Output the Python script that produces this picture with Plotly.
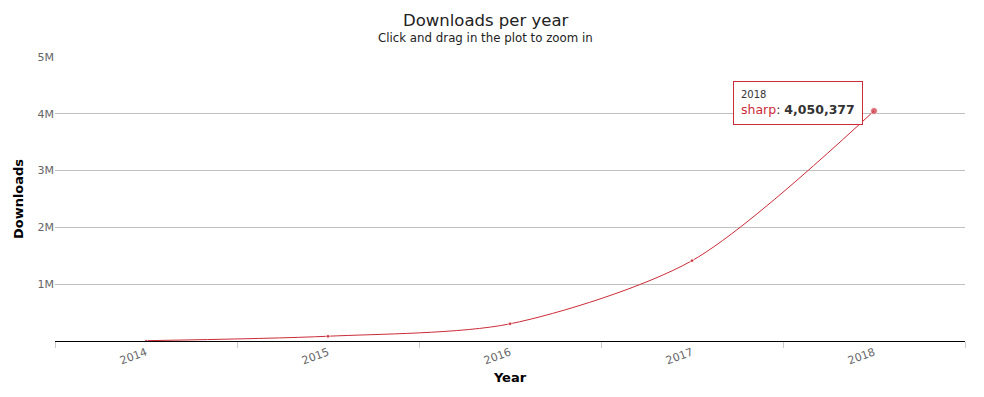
import plotly.graph_objects as go

years = ["2014", "2015", "2016", "2017", "2018"]
downloads = [6000, 84000, 302000, 1414000, 4050377]
y_tickvals = [1000000, 2000000, 3000000, 4000000, 5000000]
y_ticktext = ["1M", "2M", "3M", "4M", "5M"]

RED = "#cc2b38"
FONT = "DejaVu Sans"
TITLE_X = 0.4736

fig = go.Figure()
fig.add_trace(go.Scatter(
    x=years, y=downloads, mode="lines+markers", name="sharp",
    line=dict(color=RED, width=1, shape="spline", smoothing=0.8),
    marker=dict(color=RED, size=[3, 4, 4, 4, 7]),
    hovertemplate="%{x}<br>sharp: <b>%{y:,}</b><extra></extra>",
))

fig.update_layout(
    width=976, height=389,
    margin=dict(l=47, r=19, t=49, b=56, autoexpand=False),
    paper_bgcolor="white", plot_bgcolor="white",
    font=dict(family=FONT, size=11, color="#666666"),
    showlegend=False,
    xaxis=dict(
        type="category", range=[-0.5, 4.5], automargin=False,
        tickangle=-20, tickson="boundaries", ticks="outside", ticklen=6,
        tickcolor="#cccccc", showline=True, linecolor="#000000", linewidth=1,
        showgrid=False, tickfont=dict(size=11, color="#666666"),
        title=dict(text="<b>Year</b>", font=dict(size=13, color="#000000"), standoff=6),
    ),
    yaxis=dict(
        range=[0, 5000000], tickvals=y_tickvals, ticktext=y_ticktext, automargin=False,
        showgrid=True, gridcolor="#c0c0c0", gridwidth=1, zeroline=False,
        showline=False, ticks="", tickfont=dict(size=11, color="#666666"),
        title=dict(text="<b>Downloads</b>", font=dict(size=13, color="#000000"), standoff=10),
    ),
    annotations=[
        dict(text="Downloads per year", xref="paper", yref="paper", x=TITLE_X, y=1,
             xanchor="center", yanchor="bottom", yshift=25, showarrow=False,
             font=dict(size=16.5, color="#222222")),
        dict(text="Click and drag in the plot to zoom in", xref="paper", yref="paper",
             x=TITLE_X, y=1, xanchor="center", yanchor="bottom", yshift=10,
             showarrow=False, font=dict(size=11.8, color="#222222")),
        dict(text=("<span style='font-size:10px;color:#333333'>2018</span><br>"
                   "<span style='color:%s'>sharp</span>: <b>4,050,377</b>" % RED),
             x=4, y=4050377, xref="x", yref="y", showarrow=False,
             xshift=-76, yshift=8, align="left",
             bgcolor="rgba(255,255,255,0.95)", bordercolor=RED, borderwidth=1,
             borderpad=7, font=dict(size=12.5, color="#333333")),
    ],
)

fig.write_html("out.html")
